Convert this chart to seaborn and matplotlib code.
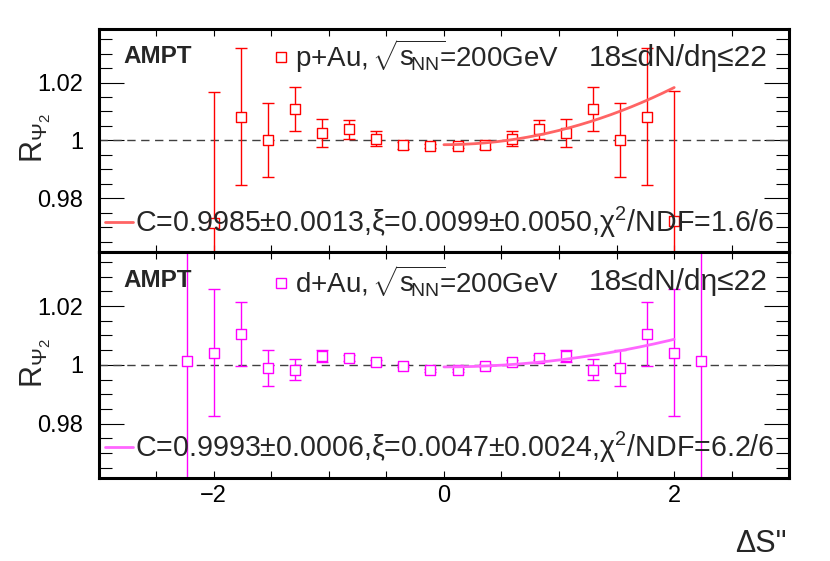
import numpy as np
import pandas as pd
import matplotlib
matplotlib.use("Agg")
import matplotlib.pyplot as plt
import seaborn as sns
from matplotlib.lines import Line2D
from matplotlib.ticker import MultipleLocator, FixedLocator

# ---------------- data ----------------
ds_pau = [-2.000, -1.765, -1.529, -1.294, -1.059, -0.824, -0.588, -0.353, -0.118,
          0.118, 0.353, 0.588, 0.824, 1.059, 1.294, 1.529, 1.765, 2.000]
r_pau = [0.9716, 1.0082, 1.0000, 1.0107, 1.0026, 1.0039, 1.0006, 0.9983, 0.9981,
         0.9981, 0.9983, 1.0006, 1.0039, 1.0026, 1.0107, 1.0001, 1.0082, 0.9720]
e_pau = [0.0450, 0.0236, 0.0128, 0.0076, 0.0049, 0.0033, 0.0025, 0.0012, 0.0008,
         0.0008, 0.0012, 0.0025, 0.0033, 0.0049, 0.0076, 0.0128, 0.0236, 0.0450]

ds_dau = [-2.235, -2.000, -1.765, -1.529, -1.294, -1.059, -0.824, -0.588, -0.353, -0.118,
          0.118, 0.353, 0.588, 0.824, 1.059, 1.294, 1.529, 1.765, 2.000, 2.235]
r_dau = [1.0014, 1.0042, 1.0105, 0.9989, 0.9983, 1.0030, 1.0023, 1.0008, 0.9997, 0.9982,
         0.9982, 0.9997, 1.0010, 1.0025, 1.0030, 0.9983, 0.9989, 1.0105, 1.0042, 1.0014]
e_dau = [0.0400, 0.0217, 0.0110, 0.0060, 0.0036, 0.0022, 0.0010, 0.0008, 0.0006, 0.0005,
         0.0005, 0.0006, 0.0008, 0.0010, 0.0022, 0.0036, 0.0060, 0.0110, 0.0217, 0.0400]

# fit parameters  C*(1 + xi*dS^2/2), fitted over 0..2
fit_pau = {"C": 0.9985, "xi": 0.0099}
fit_dau = {"C": 0.9993, "xi": 0.0047}
fit_range = [0.0, 2.0]

x_ticks = [-2, 0, 2]
y_ticks = [0.98, 1.00, 1.02]
y_ticklabels = ["0.98", "1", "1.02"]

lbl_pau = r"p+Au, $\!\sqrt{\mathrm{s}_{\!\mathrm{NN}}}\!$=200GeV"
lbl_dau = r"d+Au, $\!\sqrt{\mathrm{s}_{\!\mathrm{NN}}}\!$=200GeV"
fit_lbl_pau = r"C=0.9985±0.0013,ξ=0.0099±0.0050,χ$^{2}$/NDF=1.6/6"
fit_lbl_dau = r"C=0.9993±0.0006,ξ=0.0047±0.0024,χ$^{2}$/NDF=6.2/6"
mult_lbl = "18≤dN/dη≤22"

# ---------------- style ----------------
sns.set_theme(style="ticks")
plt.rcParams["font.family"] = ["Liberation Sans", "DejaVu Sans"]
plt.rcParams["mathtext.fontset"] = "custom"
plt.rcParams["mathtext.rm"] = "Liberation Sans"
plt.rcParams["mathtext.it"] = "Liberation Sans:italic"
plt.rcParams["mathtext.bf"] = "Liberation Sans:bold"
plt.rcParams["mathtext.sf"] = "Liberation Sans"

fig = plt.figure(figsize=(8.3, 5.61), dpi=100)
fig.patch.set_facecolor("white")
ax1 = fig.add_axes([0.1187, 0.5513, 0.8323, 0.3970])
ax2 = fig.add_axes([0.1187, 0.1480, 0.8323, 0.4033])

panels = [
    (ax1, ds_pau, r_pau, e_pau, fit_pau, "#ff0000", "#ff6464", lbl_pau, fit_lbl_pau, 0.879, 0.133, 0.846, 0.835),
    (ax2, ds_dau, r_dau, e_dau, fit_dau, "#ff00ff", "#ff66ff", lbl_dau, fit_lbl_dau, 0.870, 0.137, 0.845, 0.831),
]

for ax, xs, ys, es, fp, col, fcol, lbl, flbl, ylegm, ylegf, yampt, ymult in panels:
    ax.set_facecolor("white")
    ax.axhline(1.0, color="0.25", lw=1.0, ls=(0, (6, 4)), zorder=1)

    ax.errorbar(xs, ys, yerr=es, fmt="none", ecolor=col, elinewidth=1.0,
                capsize=4, capthick=1.0, zorder=2)
    df = pd.DataFrame({"x": xs, "y": ys})
    sns.scatterplot(data=df, x="x", y="y", ax=ax, marker="s", s=52,
                    facecolor="white", edgecolor=col, linewidth=1.0, zorder=3)

    xf = np.linspace(fit_range[0], fit_range[1], 200)
    dff = pd.DataFrame({"x": xf, "y": fp["C"] * (1 + fp["xi"] * xf ** 2 / 2)})
    sns.lineplot(data=dff, x="x", y="y", ax=ax, color=fcol, lw=2.0, zorder=4)

    ax.set_xlim(-3, 3)
    ax.set_ylim(0.9615, 1.0385)
    ax.set_xlabel("")
    ax.set_ylabel("")

    ax.xaxis.set_major_locator(MultipleLocator(0.5))
    ax.yaxis.set_major_locator(FixedLocator(y_ticks))
    ax.set_yticklabels(y_ticklabels)
    ax.yaxis.set_minor_locator(MultipleLocator(0.005))
    ax.tick_params(axis="both", which="both", direction="in", top=True, right=True,
                   colors="black", width=0.8)
    ax.tick_params(axis="y", which="major", length=18, labelsize=17, pad=11)
    ax.tick_params(axis="y", which="minor", length=9.5)
    ax.tick_params(axis="x", which="major", length=5, labelsize=17, pad=5)
    for sp in ax.spines.values():
        sp.set_linewidth(2.2)
        sp.set_color("black")

    ax.text(0.0355, yampt, "AMPT", transform=ax.transAxes, fontsize=17.5,
            fontweight="bold", ha="left", va="baseline")
    ax.text(0.969, ymult, mult_lbl, transform=ax.transAxes, fontsize=21.5,
            ha="right", va="baseline")

    h_m = Line2D([], [], ls="none", marker="s", markersize=7.2, mfc="white",
                 mec=col, mew=1.0)
    leg1 = ax.legend([h_m], [lbl], loc="center left", bbox_to_anchor=(0.251, ylegm),
                     frameon=False, fontsize=20, borderpad=0, borderaxespad=0,
                     handlelength=0.66, handletextpad=0.16)
    ax.add_artist(leg1)
    h_f = Line2D([], [], color=fcol, lw=2.0)
    ax.legend([h_f], [flbl], loc="center left", bbox_to_anchor=(0.0094, ylegf),
              frameon=False, fontsize=20.6, borderpad=0, borderaxespad=0,
              handlelength=0.98, handletextpad=0.07)

# x tick labels only at -2, 0, 2
xt = np.arange(-3, 3.01, 0.5)
ax1.set_xticks(xt)
ax1.set_xticklabels([""] * len(xt))
ax2.set_xticks(xt)
ax2.set_xticklabels(["\u22122" if abs(v + 2) < 1e-9 else ("0" if abs(v) < 1e-9 else ("2" if abs(v - 2) < 1e-9 else "")) for v in xt])

# axis titles
fig.text(36 / 830, 1 - 138.5 / 561, r"R$_{\Psi_{2}}$", rotation=90, fontsize=22,
         ha="center", va="center")
fig.text(36 / 830, 1 - 363.5 / 561, r"R$_{\Psi_{2}}$", rotation=90, fontsize=22,
         ha="center", va="center")
fig.text(787 / 830, 1 - 552 / 561, "ΔS\"", fontsize=22, ha="right", va="baseline")

fig.savefig("out.png", dpi=100, facecolor="white")
